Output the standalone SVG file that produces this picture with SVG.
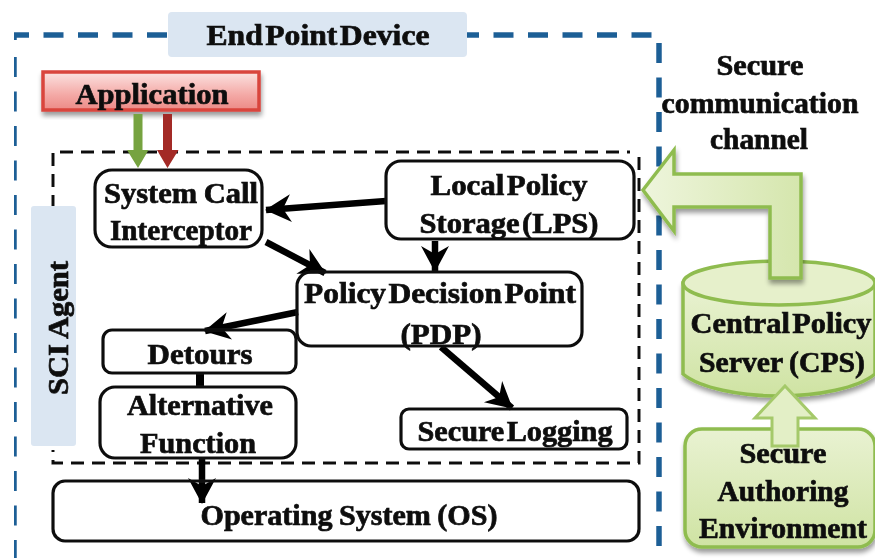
<svg xmlns="http://www.w3.org/2000/svg" width="876" height="558" viewBox="0 0 876 558">
<style>
text{font-family:"Liberation Serif","Times New Roman",serif;font-weight:700;font-size:29px;word-spacing:-5px;fill:#111;stroke:#111;stroke-width:.7;text-anchor:middle}
.w{word-spacing:-1px}
.box{fill:none;stroke:#111;stroke-width:3.2}
.tag{fill:#dbe6f2}
.blue{fill:none;stroke:#1f5f96;stroke-width:5.5;stroke-dasharray:20 14.5}
.in{fill:none;stroke:#111;stroke-width:3;stroke-dasharray:13 8}
.k{stroke:#000;stroke-width:6.5;fill:none;marker-end:url(#bk)}
.gr{stroke:#8fbc4f;stroke-width:3.5}
</style>
<defs>
<marker id="bk" markerUnits="userSpaceOnUse" markerWidth="30" markerHeight="34" refX="25" refY="15" orient="auto"><path d="M0 1 L26 15 L0 29 L8 15Z" fill="#000"/></marker>
<linearGradient id="rd" x1="0" y1="0" x2="0" y2="1"><stop offset="0" stop-color="#fbe3e1"/><stop offset=".6" stop-color="#f4a9a6"/><stop offset="1" stop-color="#ec8a86"/></linearGradient>
<linearGradient id="gg" x1="0" y1="0" x2="0" y2="1"><stop offset="0" stop-color="#e9f2d2"/><stop offset="1" stop-color="#cfe3a3"/></linearGradient>
<linearGradient id="gh" x1="0" y1="0" x2="1" y2="0"><stop offset="0" stop-color="#eef5dc"/><stop offset="1" stop-color="#d5e6ad"/></linearGradient>
<filter id="sh" x="-10%" y="-15%" width="120%" height="140%"><feGaussianBlur in="SourceAlpha" stdDeviation="2.5"/><feOffset dy="4" dx="1"/><feComponentTransfer><feFuncA type="linear" slope=".4"/></feComponentTransfer><feMerge><feMergeNode/><feMergeNode in="SourceGraphic"/></feMerge></filter>
<filter id="soft" x="0" y="0" width="100%" height="100%"><feGaussianBlur stdDeviation="0.55"/></filter>
</defs>
<rect width="876" height="558" fill="#fff"/>
<g filter="url(#soft)">
<g id="end-point-frame">
<path class="blue" d="M14 40 V35 H168"/>
<path class="blue" d="M467 35 H655" stroke-dashoffset="8"/>
<path class="blue" d="M14 57 V558"/>
<path class="blue" d="M659 43 V550"/>
</g>
<g id="sci-frame">
<path class="in" d="M53 208 V152 H630"/>
<path class="in" d="M639 157 V463 H53 V450"/>
</g>
<g id="end-point-label"><rect class="tag" x="168" y="12" width="299" height="45" rx="4"/><text x="318" y="45" textLength="223" lengthAdjust="spacingAndGlyphs">End Point Device</text></g>
<g id="sci-agent"><rect class="tag" x="31" y="206" width="45" height="240" rx="3"/><text class="w" transform="translate(68 328) rotate(-90)" textLength="134" lengthAdjust="spacingAndGlyphs">SCI Agent</text></g>
<g id="application"><rect x="43" y="72" width="216" height="38" fill="url(#rd)" stroke="#d9453c" stroke-width="3.5" filter="url(#sh)"/><text x="152" y="104" textLength="153" lengthAdjust="spacingAndGlyphs">Application</text></g>
<g id="connectors">
<path d="M133.500 114 H142.500 V150 H148.500 L138 168 L127 150 H133.500Z" fill="#76a33f"/>
<path d="M163 114 H172 V150 H178.500 L167.500 168 L157 150 H163Z" fill="#a32a25"/>
<path class="k" d="M386 201 L266 210"/>
<path class="k" d="M266 242 L325 273"/>
<path class="k" d="M435 241 L435 271"/>
<path class="k" d="M298 312 L205 331"/>
<path class="k" d="M441 347 L512 408"/>
<path d="M200 372 V388" stroke="#000" stroke-width="8" fill="none"/>
<path class="k" d="M202 458 L202 503"/>
</g>
<g id="system-call-interceptor"><rect class="box" x="95" y="170" width="167" height="77" rx="17"/><text class="w" x="181" y="203" textLength="154" lengthAdjust="spacingAndGlyphs">System Call</text><text x="181" y="240" textLength="142" lengthAdjust="spacingAndGlyphs">Interceptor</text></g>
<g id="local-policy-storage"><rect class="box" x="386" y="161" width="248" height="78" rx="15"/><text x="509" y="195" textLength="157" lengthAdjust="spacingAndGlyphs">Local Policy</text><text x="509" y="233" textLength="179" lengthAdjust="spacingAndGlyphs">Storage (LPS)</text></g>
<g id="policy-decision-point"><rect class="box" x="297" y="272" width="285" height="74" rx="14"/><text x="440" y="303" textLength="272" lengthAdjust="spacingAndGlyphs">Policy Decision Point</text><text x="441" y="344" textLength="81" lengthAdjust="spacingAndGlyphs">(PDP)</text></g>
<g id="detours"><rect class="box" x="103" y="330" width="193" height="43" rx="9"/><text x="200" y="364" textLength="105" lengthAdjust="spacingAndGlyphs">Detours</text></g>
<g id="alternative-function"><rect class="box" x="100" y="387" width="196" height="71" rx="15"/><text x="200" y="415" textLength="146" lengthAdjust="spacingAndGlyphs">Alternative</text><text x="198" y="453" textLength="116" lengthAdjust="spacingAndGlyphs">Function</text></g>
<g id="secure-logging"><rect class="box" x="401" y="409" width="226" height="40" rx="8"/><text x="515" y="441" textLength="195" lengthAdjust="spacingAndGlyphs">Secure Logging</text></g>
<g id="operating-system"><rect class="box" x="53" y="481" width="586" height="60" rx="12"/><text class="w" x="349" y="525" textLength="297" lengthAdjust="spacingAndGlyphs">Operating System (OS)</text></g>
<g id="channel-label"><text x="760" y="75" textLength="87" lengthAdjust="spacingAndGlyphs">Secure</text><text x="760" y="113" textLength="197" lengthAdjust="spacingAndGlyphs">communication</text><text x="759" y="149" textLength="98" lengthAdjust="spacingAndGlyphs">channel</text></g>
<g id="central-policy-server">
<path class="gr" d="M683 283 V374 C700 388 740 396 779 396 C818 396 858 388 875 374 V283Z" fill="url(#gg)" filter="url(#sh)"/>
<ellipse class="gr" cx="779" cy="283" rx="96" ry="22" fill="#e6f0cb"/>
<text x="781" y="333" textLength="181" lengthAdjust="spacingAndGlyphs">Central Policy</text><text class="w" x="782" y="372" textLength="166" lengthAdjust="spacingAndGlyphs">Server (CPS)</text>
</g>
<g id="secure-authoring-environment">
<rect class="gr" x="685" y="429" width="190" height="118" rx="17" fill="url(#gg)" filter="url(#sh)"/>
<path d="M785 386 L815 418 H798 V446 H772 V418 H755Z" fill="#e3efc6" stroke="#a5c96a" stroke-width="3"/>
<text x="783" y="463" textLength="87" lengthAdjust="spacingAndGlyphs">Secure</text><text x="783" y="501" textLength="131" lengthAdjust="spacingAndGlyphs">Authoring</text><text x="783" y="538" textLength="168" lengthAdjust="spacingAndGlyphs">Environment</text>
</g>
<g id="channel-arrow"><path class="gr" d="M643 190 L674 150 V174 H801 V278 H770 V207 H674 V231Z" fill="url(#gh)" filter="url(#sh)"/></g>
</g>
</svg>
